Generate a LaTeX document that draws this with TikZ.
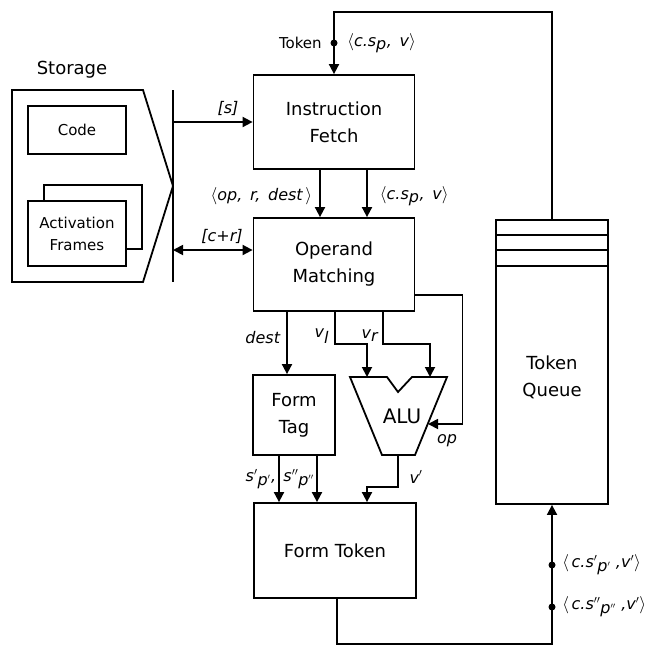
\documentclass[tikz,border=0pt]{standalone}
\usepackage{fontspec}
\setmainfont{DejaVu Sans}
\usetikzlibrary{arrows.meta,calc}
\newcommand{\mysub}[1]{\ensuremath{_{\textit{#1}}}}
\begin{document}
\begin{tikzpicture}[x=1pt,y=-1pt,line width=1.8pt,
  box/.style={draw,rectangle,align=center,inner sep=0pt,font=\fontsize{18}{27}\selectfont},
  arr/.style={-{Triangle[length=10pt,width=10pt]}},
  darr/.style={{Triangle[length=10pt,width=10pt]}-{Triangle[length=10pt,width=10pt]}},
  lab/.style={inner sep=1pt,font=\fontsize{16}{18}\selectfont\itshape},
  dot/.style={circle,fill,inner sep=0pt,minimum size=7pt}]
\useasboundingbox (0,0) rectangle (655,646);

% Storage
\node[font=\fontsize{18}{21}\selectfont] (stlab) at (72,70) {Storage};
\draw (12,90) -- (143,90) -- (173,186) -- (143,282) -- (12,282) -- cycle;
\coordinate (bt) at (173,90);
\coordinate (bb) at (173,282);
\draw (bt) -- (bb);
\node[box,minimum width=98pt,minimum height=48pt,font=\fontsize{15}{18}\selectfont] (code) at (77,130) {Code};
\node[draw,minimum width=98pt,minimum height=64pt,inner sep=0pt] (afb) at (93,217) {};
\node[box,fill=white,minimum width=98pt,minimum height=65pt,font=\fontsize{15}{22}\selectfont] (af) at (77,233.5) {Activation\\Frames};

% main boxes
\node[box,minimum width=161pt,minimum height=94pt] (IF) at (334,122) {Instruction\\Fetch};
\node[box,minimum width=161pt,minimum height=93pt] (OM) at (334,264.5) {Operand\\Matching};
\node[box,minimum width=82pt,minimum height=80pt] (FTag) at (294,415) {Form\\Tag};
\node[box,minimum width=162pt,minimum height=95pt] (FT) at (335,550.5) {Form Token};
\node[draw,minimum width=112pt,minimum height=284pt,inner sep=0pt] (TQ) at (552,362) {};
\node[align=center,font=\fontsize{18}{27}\selectfont] (TQt) at (552,377) {Token\\Queue};
\foreach \d in {16,31,47}
  \draw ([yshift=-\d pt]TQ.north west) -- ([yshift=-\d pt]TQ.north east);

% ALU
\draw (350,377) -- (387,377) -- (398,392) -- (412,377) -- (447,377) -- (415,455) -- (382,455) -- cycle;
\node[font=\fontsize{20}{23}\selectfont] (alu) at (402,416) {ALU};
\coordinate (ainl) at (367,377);
\coordinate (ainr) at (430,377);
\coordinate (aop) at (428,424);
\coordinate (aout) at (398,455);

% storage bus connections
\coordinate (bs) at (173,122);
\coordinate (bc) at (173,250);
\draw[arr] (bs) -- (bs -| IF.west);
\draw[darr] (bc) -- (bc -| OM.west);
\node[lab] (ls) at (228,108) {[s]};
\node[lab] (lcr) at (222,236) {[c+r]};

% token feedback
\draw[arr] (TQ.north) |- ([yshift=62pt]IF.north) -- (IF.north);
\node[dot] (d1) at (334,43) {};
\node[inner sep=1pt,font=\fontsize{15}{17}\selectfont,anchor=east] (ltok) at ([xshift=-6pt]d1.west) {Token};
\node[lab,anchor=west] (ltop) at ([xshift=7pt]d1.east) {$\langle$c.s\mysub{p}, \,v$\rangle$};

% IF -> OM
\draw[arr] ([xshift=-14pt]IF.south) -- ([xshift=-14pt]OM.north);
\draw[arr] ([xshift=33pt]IF.south) -- ([xshift=33pt]OM.north);
\node[lab,anchor=east] (lop) at (314,196) {$\langle$op, \,r, \,dest\,$\rangle$};
\node[lab,anchor=west] (lcs) at (378,196) {$\langle$c.s\mysub{p}, \,v$\rangle$};

% OM outputs
\draw[arr] ([xshift=-47pt]OM.south) -- ([xshift=-47pt]OM.south |- FTag.north);
\draw[arr] ([xshift=1pt]OM.south) -- ++(0,32) -| (ainl);
\draw[arr] ([xshift=49pt]OM.south) -- ++(0,32) -| (ainr);
\draw[arr] ([yshift=-30.5pt]OM.east) -- ++(47,0) |- (aop);
\node[lab,anchor=east] (ldest) at (282,338) {dest};
\node[lab,anchor=east] (lvl) at (331,336) {v\mysub{l}};
\node[lab,anchor=east] (lvr) at (380,336) {v\mysub{r}};
\node[lab] (lopx) at (447,441) {op};

% ALU / FormTag -> FormToken
\draw[arr] (aout) -- ++(0,32) -| ([xshift=32pt]FT.north);
\node[lab] (lvp) at (416,477) {v$'$};
\draw[arr] ([xshift=-15pt]FTag.south) -- ([xshift=-15pt]FTag.south |- FT.north);
\draw[arr] ([xshift=23pt]FTag.south) -- ([xshift=23pt]FTag.south |- FT.north);
\node[lab,anchor=east] (ls1) at (278,479) {s$'{}_{\textit{p}'}$,};
\node[lab,anchor=east] (ls2) at (316,479) {s$''{}_{\textit{p}''}$};

% FormToken -> TokenQueue
\draw[arr] ([xshift=2pt]FT.south) -- ++(0,45) -| (TQ.south);
\node[dot] (d2) at (552,565) {};
\node[dot] (d3) at (552,607) {};
\node[lab,anchor=west] (lb1) at ([xshift=4pt]d2.east) {$\langle$\,c.s$'{}_{\textit{p}'}$ ,v$'\rangle$};
\node[lab,anchor=west] (lb2) at ([xshift=4pt]d3.east) {$\langle$\,c.s$''{}_{\textit{p}''}$ ,v$'\rangle$};
\end{tikzpicture}
\end{document}
